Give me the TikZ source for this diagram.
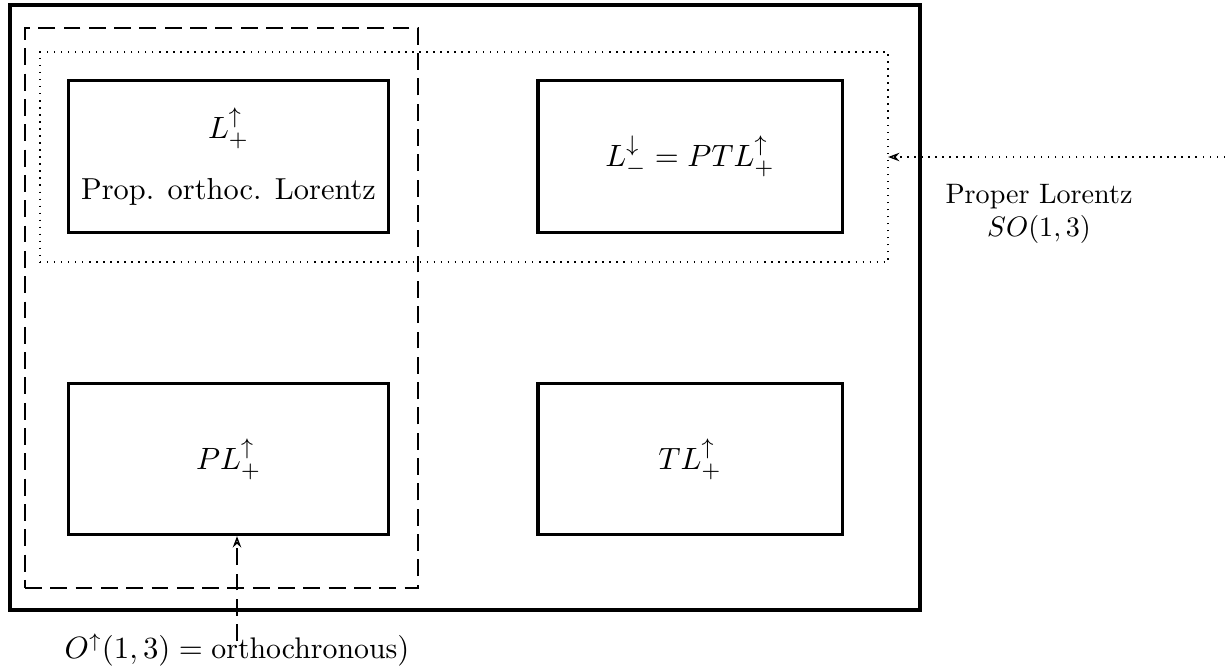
\documentclass[tikz,border=0pt]{standalone}
\usepackage{amsmath}
\usetikzlibrary{arrows.meta, positioning}
\tikzset{
  group/.style = {draw, line width = 1.1pt, minimum width = 3.99cm, minimum height = 1.89cm, inner sep = 0pt, font = \fontsize{10.8}{13}\selectfont},
  frame/.style = {draw, inner sep = 0pt, outer sep = 0pt},
  pointer/.style = {-{Stealth[length = 4pt, width = 3pt, open]}, line width = 0.5pt}
}

\begin{document}
\begin{tikzpicture}[x = 0.0125cm, y = -0.0125cm]
\useasboundingbox (0,0) rectangle (1225,670);
\node[frame, line width = 1.5pt, minimum width = 11.375cm, minimum height = 7.5625cm] (full) at (465,307.5) {};
\node[frame, dashed, dash pattern = on 6pt off 3pt, line width = 0.6pt, minimum width = 4.9125cm, minimum height = 7cm] (ortho) at (221.5,308) {};
\node[frame, dotted, line width = 0.5pt, minimum width = 10.6cm, minimum height = 2.625cm] (proper) at (464,157) {};
\node[group, align = center] (Lpu) at (228.5,156.5) {$L^{\uparrow}_{+}$\\[0.3cm] Prop. orthoc. Lorentz};
\node[group, minimum width = 3.8cm] (Lmd) at (690,156.5) {$L^{\downarrow}_{-} = PTL^{\uparrow}_{+}$};
\node[group] (PLpu) at (228.5,459) {$PL^{\uparrow}_{+}$};
\node[group, minimum width = 3.8cm] (TLpu) at (690,459) {$TL^{\uparrow}_{+}$};
\node[align = center] (solabel) at (1039,214) {Proper Lorentz\\ $SO(1,3)$};
\node[font = \fontsize{10.6}{13}\selectfont] (olabel) at (237,650) {$O^{\uparrow}(1,3) = \text{orthochronous})$};
\coordinate (sostart) at (1225,157);
\coordinate (ostart) at (237,641);
\draw[pointer, dotted] (sostart) -- (proper.east);
\draw[pointer, dashed, dash pattern = on 6pt off 3pt] (ostart) -- (ostart |- PLpu.south);
\end{tikzpicture}
\end{document}
